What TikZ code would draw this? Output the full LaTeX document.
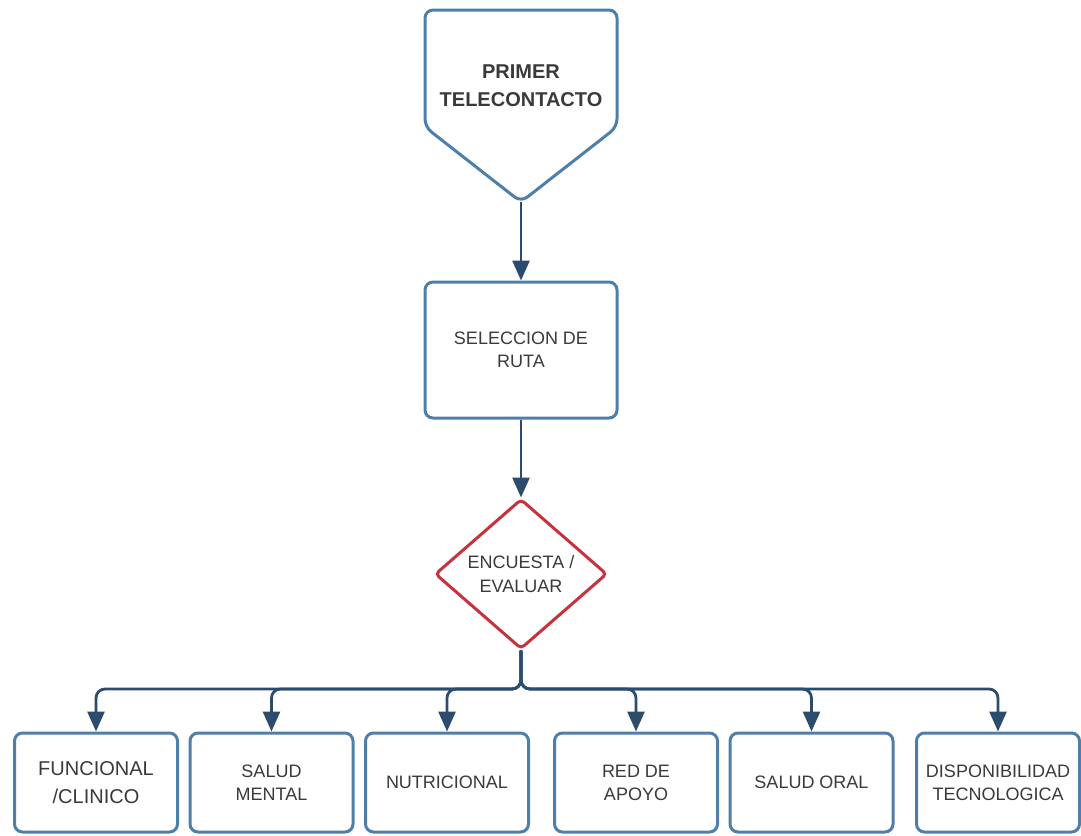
\documentclass[tikz,border=0pt]{standalone}
\usepackage{fontspec}
\setmainfont{Liberation Sans}
\usetikzlibrary{shapes.geometric,arrows.meta}
\definecolor{boxblue}{HTML}{4E7FAB}
\definecolor{arrowblue}{HTML}{2C4C6E}
\definecolor{decred}{HTML}{C8323C}
\definecolor{txt}{HTML}{3A3A3A}
\tikzset{
  stepbox/.style={draw=boxblue, line width=3pt, rounded corners=8pt, fill=white,
    align=center, text=txt, inner sep=2pt, font=\fontsize{18}{23}\selectfont},
  smallbox/.style={stepbox, minimum width=163pt, minimum height=99pt},
  decision/.style={diamond, draw=decred, line width=3pt, rounded corners=4pt, fill=white,
    align=center, text=txt, inner sep=0pt, aspect=1.15,
    minimum width=172pt, minimum height=150pt, font=\fontsize{18}{24}\selectfont},
  flow/.style={draw=arrowblue, line width=2.8pt, rounded corners=9pt,
    -{Triangle[length=20pt,width=17pt]}},
}
\begin{document}
\begin{tikzpicture}[x=1pt,y=-1pt]
  \useasboundingbox (0,0) rectangle (1081,835);

  % start shape: pentagon pointing down
  \draw[boxblue, line width=3pt, rounded corners=8pt, fill=white]
    (425,10) -- (617,10) -- (617,127) -- (521,202) -- (425,127) -- cycle;
  \node[align=center, text=txt, font=\bfseries\fontsize{20}{28}\selectfont] (start) at (521,86)
    {PRIMER\\TELECONTACTO};
  \coordinate (starttip) at (521,202);

  % route selection
  \node[stepbox, minimum width=192pt, minimum height=136pt] (ruta) at (521,350)
    {SELECCION DE\\RUTA};

  % survey / evaluation decision
  \node[decision] (eval) at (521,574) {ENCUESTA /\\EVALUAR};

  % evaluation areas
  \node[smallbox, font=\fontsize{20}{28}\selectfont] (b1) at (96,782.5) {FUNCIONAL\\/CLINICO};
  \node[smallbox] (b2) at (271.5,782.5) {SALUD\\MENTAL};
  \node[smallbox] (b3) at (447,782.5) {NUTRICIONAL};
  \node[smallbox] (b4) at (636,782.5) {RED DE\\APOYO};
  \node[smallbox] (b5) at (811.5,782.5) {SALUD ORAL};
  \node[smallbox] (b6) at (998,782.5) {DISPONIBILIDAD\\TECNOLOGICA};

  % connectors
  \draw[flow] (starttip) -- (ruta.north);
  \draw[flow] (ruta.south) -- (eval.north);
  \coordinate (bus) at (521,689);
  \foreach \b in {b1,b2,b3,b4,b5,b6}
    \draw[flow] (eval.south) -- (bus) -| (\b.north);
\end{tikzpicture}
\end{document}
